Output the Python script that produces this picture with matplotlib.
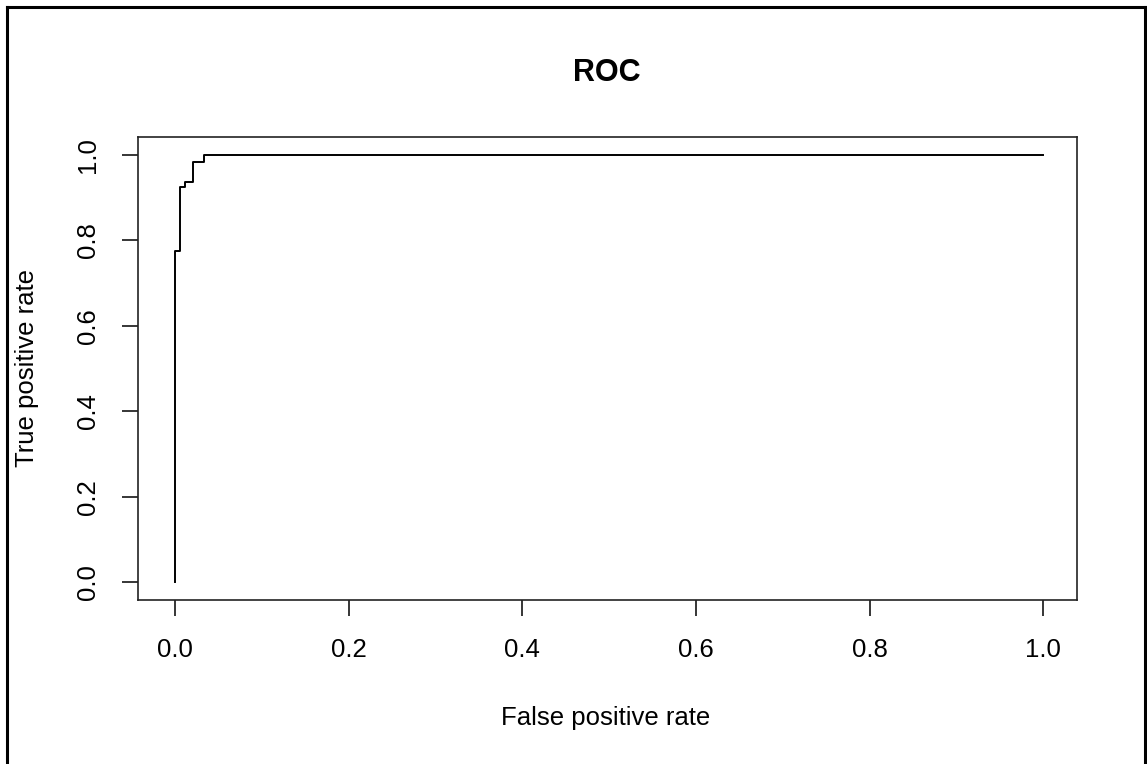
import matplotlib
matplotlib.use("Agg")
import matplotlib.pyplot as plt
from matplotlib.lines import Line2D

# ROC curve points (false positive rate, true positive rate)
fpr = [0.0, 0.0, 0.0063, 0.0063, 0.0119, 0.0119, 0.0204, 0.0204, 0.0334, 0.0334, 1.0]
tpr = [0.0, 0.775, 0.775, 0.925, 0.925, 0.936, 0.936, 0.983, 0.983, 1.0, 1.0]
ticks = [0.0, 0.2, 0.4, 0.6, 0.8, 1.0]
tick_labels = ["0.0", "0.2", "0.4", "0.6", "0.8", "1.0"]

plt.rcParams['font.family'] = ['Liberation Sans', 'DejaVu Sans']

W, H = 1147, 764
fig = plt.figure(figsize=(W / 100, H / 100), dpi=100)
fig.patch.set_facecolor('white')

ax = fig.add_axes([138 / W, 1 - 600 / H, (1077 - 138) / W, (600 - 137) / H])
ax.plot(fpr, tpr, color='black', lw=1.4)
ax.set_xlim(-0.0426, 1.039)
ax.set_ylim(-0.042, 1.042)
ax.set_xticks(ticks)
ax.set_xticklabels(tick_labels)
ax.set_yticks(ticks)
ax.set_yticklabels(tick_labels, rotation=90, va='center')
ax.tick_params(direction='out', length=11.5, width=1.1, pad=16, labelsize=18.5, colors='black')
for s in ax.spines.values():
    s.set_linewidth(1.2)
    s.set_color('#222222')

fig.text(607 / W, 1 - 73 / H, "ROC", ha='center', va='center', fontsize=22, fontweight='bold')
fig.text(606 / W, 1 - 718 / H, "False positive rate", ha='center', va='center', fontsize=18.5)
fig.text(27 / W, 1 - 368 / H, "True positive rate", ha='center', va='center', fontsize=18.5, rotation=90)

# figure border (left, top, right)
bw = 2.2
fig.add_artist(Line2D([6.5 / W, 6.5 / W], [0, 1 - 6.5 / H], transform=fig.transFigure, color='black', lw=bw))
fig.add_artist(Line2D([6.5 / W, 1144.5 / W], [1 - 6.5 / H, 1 - 6.5 / H], transform=fig.transFigure, color='black', lw=bw))
fig.add_artist(Line2D([1144.5 / W, 1144.5 / W], [0, 1 - 6.5 / H], transform=fig.transFigure, color='black', lw=bw))

fig.savefig("out.png", dpi=100)
